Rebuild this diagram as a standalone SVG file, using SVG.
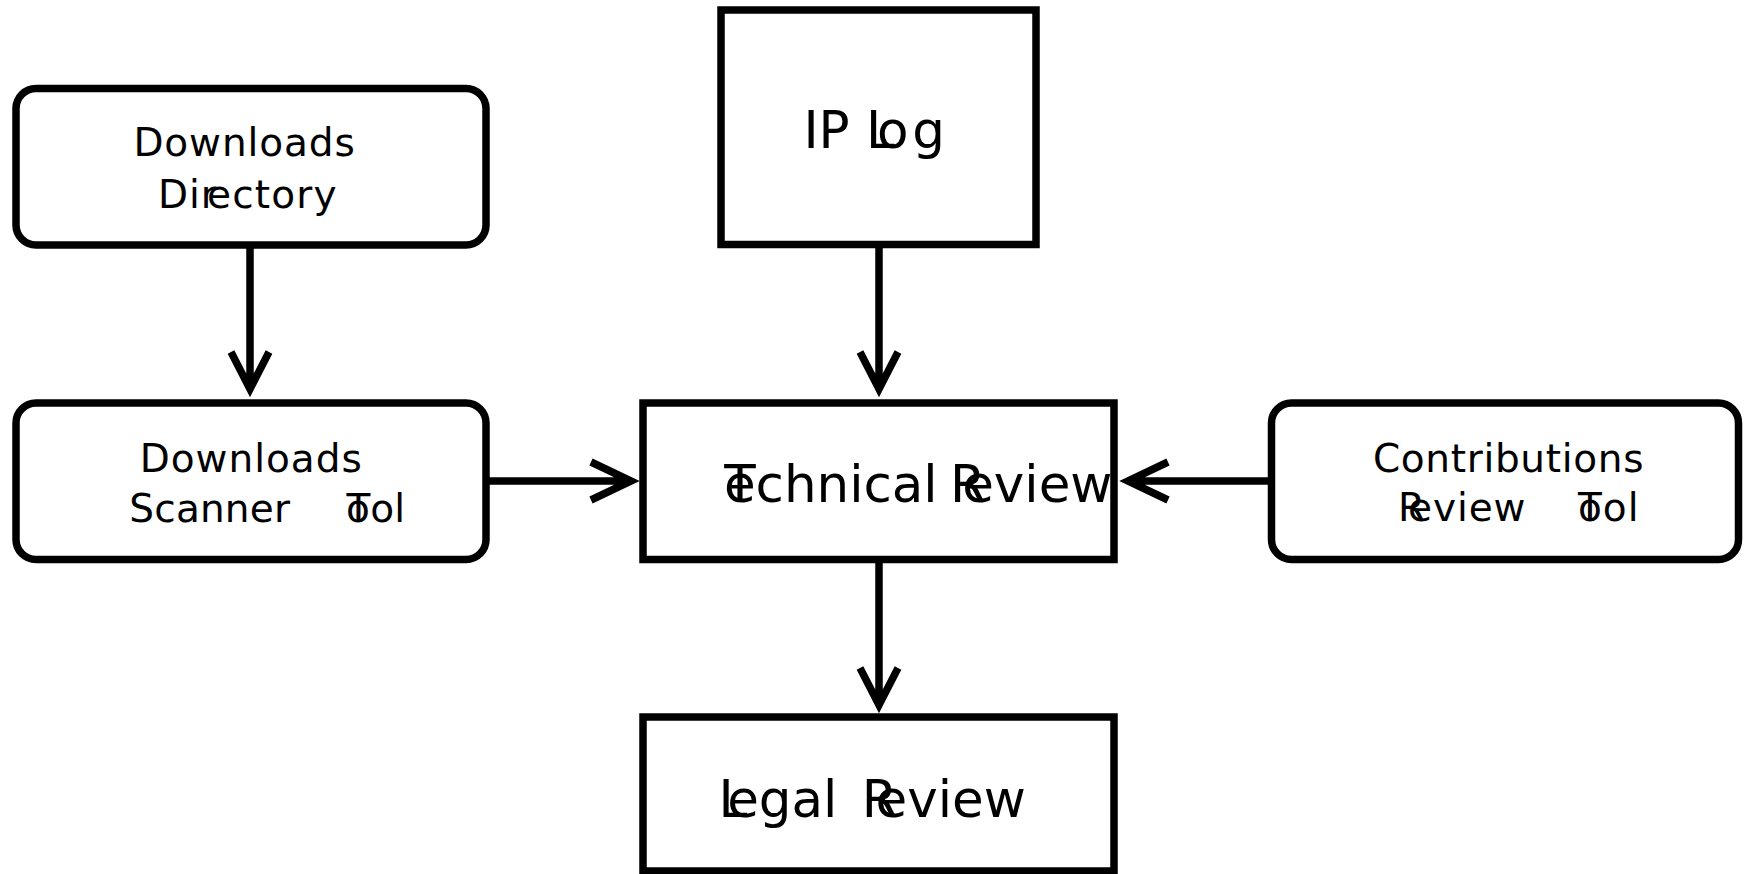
<svg xmlns="http://www.w3.org/2000/svg" width="1745" height="874" viewBox="0 0 1745 874">
<style>
.box{fill:#fff;stroke:#000;stroke-width:7.5}
.ln{fill:none;stroke:#000;stroke-width:7.5;stroke-linejoin:miter}
.s{font-family:"DejaVu Sans",sans-serif;font-size:39px;fill:#000}
.l{font-family:"DejaVu Sans",sans-serif;font-size:51.5px;fill:#000}
</style>
<rect width="1745" height="874" fill="#fff"/>
<g id="connectors">
<path class="ln" d="M250,248 V389 M231,352 L250,389 L269,352"/>
<path class="ln" d="M879,244.5 V389 M860,352 L879,389 L898,352"/>
<path class="ln" d="M486,481 H631 M591,462 L631,481 L591,500"/>
<path class="ln" d="M1271.5,481 H1128 M1168,462 L1128,481 L1168,500"/>
<path class="ln" d="M879,559.5 V705 M860,668 L879,705 L898,668"/>
</g>
<g id="downloads-directory">
<rect class="box" x="16" y="88.5" width="470" height="156.5" rx="20"/>
<text class="s" x="133.4" y="156" textLength="221.4" lengthAdjust="spacing">Downloads</text>
<text class="s" x="158.1" y="208.3" textLength="58.6" lengthAdjust="spacing">Dir</text>
<text class="s" x="207" y="208.3" textLength="129.5" lengthAdjust="spacing">ectory</text>
</g>
<g id="downloads-scanner-tool">
<rect class="box" x="16" y="403" width="470" height="156.5" rx="20"/>
<text class="s" x="139.7" y="471.7" textLength="222.1" lengthAdjust="spacing">Downloads</text>
<text class="s" x="129.3" y="521.5" textLength="160.7" lengthAdjust="spacing">Scanner</text>
<text class="s" x="346.5" y="521.5">T</text>
<text class="s" x="346" y="521.5" textLength="59.2" lengthAdjust="spacing">ool</text>
</g>
<g id="ip-log">
<rect class="box" x="721" y="10" width="315" height="234.5"/>
<text class="l" x="803.4" y="148.3">IP L</text>
<text class="l" x="877" y="148.3" textLength="68" lengthAdjust="spacing">og</text>
</g>
<g id="technical-review">
<rect class="box" x="643" y="403" width="471" height="156.5"/>
<text class="l" x="724.3" y="501.7">T</text>
<text class="l" x="723.9" y="501.7">echnical</text>
<text class="l" x="950.1" y="501.7">R</text>
<text class="l" x="962.2" y="501.7">eview</text>
</g>
<g id="contributions-review-tool">
<rect class="box" x="1271.5" y="403" width="467" height="156.5" rx="20"/>
<text class="s" x="1372.9" y="471.7" textLength="270.6" lengthAdjust="spacing">Contributions</text>
<text class="s" x="1398.1" y="521">R</text>
<text class="s" x="1408" y="521" textLength="117.5" lengthAdjust="spacing">eview</text>
<text class="s" x="1578" y="521">T</text>
<text class="s" x="1578" y="521" textLength="60.5" lengthAdjust="spacing">ool</text>
</g>
<g id="legal-review">
<rect class="box" x="643" y="717" width="471" height="154"/>
<text class="l" x="718.4" y="816.7">L</text>
<text class="l" x="727.2" y="816.7">egal</text>
<text class="l" x="861.8" y="816.7">R</text>
<text class="l" x="875.5" y="816.7">eview</text>
</g>
</svg>
